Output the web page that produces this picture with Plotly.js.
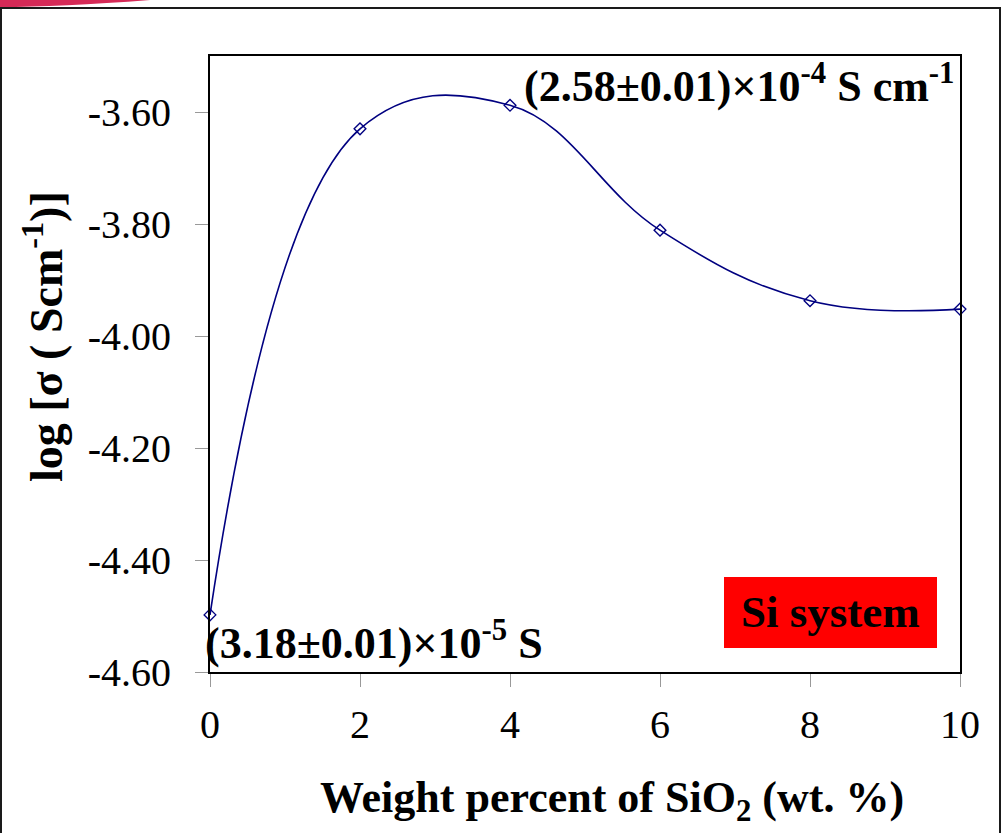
<!DOCTYPE html>
<html>
<head>
<meta charset="utf-8">
<script src="https://cdn.plot.ly/plotly-3.0.1.min.js"></script>
<style>
html,body{margin:0;padding:0;background:#fff;}
#chart{width:1003px;height:833px;}
</style>
</head>
<body>
<div id="chart"></div>
<script>
// Data
const sio2Wt = [0, 2, 4, 6, 8, 10];
const logSigma = [-4.498, -3.630, -3.588, -3.811, -3.937, -3.952];
const xTickVals = [0, 2, 4, 6, 8, 10];
const yTickVals = [-4.6, -4.4, -4.2, -4.0, -3.8, -3.6];
const yTickText = ["-4.60", "-4.40", "-4.20", "-4.00", "-3.80", "-3.60"];
const labelMax = "(2.58±0.01)×10<sup>-4</sup> S cm<sup>-1</sup>";
const labelMin = "(3.18±0.01)×10<sup>-5</sup> S";
const systemLabel = "Si system";
const xTitle = "Weight percent of SiO<sub>2</sub> (wt. %)";
const yTitle = "log [σ ( Scm<sup>-1</sup>)]";

const serif = "Liberation Serif, Times New Roman, serif";

// pixel -> paper helpers (plot area: x 210..960, y 56..672)
const L = 210, R = 960, T = 56, B = 672;
const px = v => (v - L) / (R - L);
const py = v => (B - v) / (B - T);

const trace = {
  x: sio2Wt,
  y: logSigma,
  type: "scatter",
  mode: "lines+markers",
  line: {shape: "spline", smoothing: 1.15, color: "#000080", width: 1.6},
  marker: {symbol: "diamond-open", size: 9, color: "#000080", line: {width: 1.4, color: "#000080"}},
  cliponaxis: false,
  hoverinfo: "skip"
};

const layout = {
  width: 1003,
  height: 833,
  margin: {l: L, r: 1003 - R, t: T, b: 833 - B},
  paper_bgcolor: "#ffffff",
  plot_bgcolor: "#ffffff",
  showlegend: false,
  xaxis: {
    range: [0, 10],
    tickvals: xTickVals,
    ticktext: xTickVals.map(String),
    ticks: "outside",
    ticklen: 13,
    tickwidth: 1,
    tickcolor: "#999999",
    showgrid: false,
    zeroline: false,
    showline: true,
    linecolor: "#000000",
    linewidth: 2,
    mirror: true,
    ticklabelstandoff: 3,
    tickfont: {family: serif, size: 40, color: "#000"}
  },
  yaxis: {
    range: [-4.6, -3.5],
    tickvals: yTickVals,
    ticktext: yTickText,
    ticks: "outside",
    ticklen: 13,
    tickwidth: 1,
    tickcolor: "#999999",
    showgrid: false,
    zeroline: false,
    showline: true,
    linecolor: "#000000",
    linewidth: 2,
    mirror: true,
    ticklabelstandoff: 16,
    tickfont: {family: serif, size: 40, color: "#000"}
  },
  shapes: [
    // outer frame
    {type: "rect", xref: "paper", yref: "paper", x0: px(1), x1: px(1000), y0: py(840), y1: py(8),
     line: {color: "#1a1a1a", width: 2}, fillcolor: "rgba(0,0,0,0)", layer: "below"},
    // red swoosh at the top left
    {type: "path", xref: "paper", yref: "paper",
     path: `M ${px(0)},${py(0)} L ${px(150)},${py(0)} Q ${px(60)},${py(7)} ${px(0)},${py(7)} Z`,
     fillcolor: "#d52a57", line: {width: 0}, layer: "below"},
    // red label box
    {type: "rect", xref: "paper", yref: "paper", x0: px(724), x1: px(937), y0: py(648), y1: py(577),
     fillcolor: "#ff0000", line: {width: 0}, layer: "above"}
  ],
  annotations: [
    {xref: "paper", yref: "paper", x: px(957), y: py(84), xanchor: "right", yanchor: "middle",
     text: "<b>" + labelMax + "</b>", showarrow: false, font: {family: serif, size: 44, color: "#000"}},
    {xref: "paper", yref: "paper", x: px(203), y: py(640), xanchor: "left", yanchor: "middle",
     text: "<b>" + labelMin + "</b>", showarrow: false, font: {family: serif, size: 44, color: "#000"}},
    {xref: "paper", yref: "paper", x: px(830), y: py(612), xanchor: "center", yanchor: "middle",
     text: "<b>" + systemLabel + "</b>", showarrow: false, font: {family: serif, size: 45, color: "#000"}},
    // x axis title
    {xref: "paper", yref: "paper", x: px(612), y: py(800), xanchor: "center", yanchor: "middle",
     text: "<b>" + xTitle + "</b>", showarrow: false, font: {family: serif, size: 44, color: "#000"}},
    // y axis title
    {xref: "paper", yref: "paper", x: px(43), y: py(337), xanchor: "center", yanchor: "middle",
     textangle: -90, text: "<b>" + yTitle + "</b>", showarrow: false, font: {family: serif, size: 46, color: "#000"}}
  ]
};

Plotly.newPlot("chart", [trace], layout, {staticPlot: true, displayModeBar: false});
</script>
</body>
</html>
